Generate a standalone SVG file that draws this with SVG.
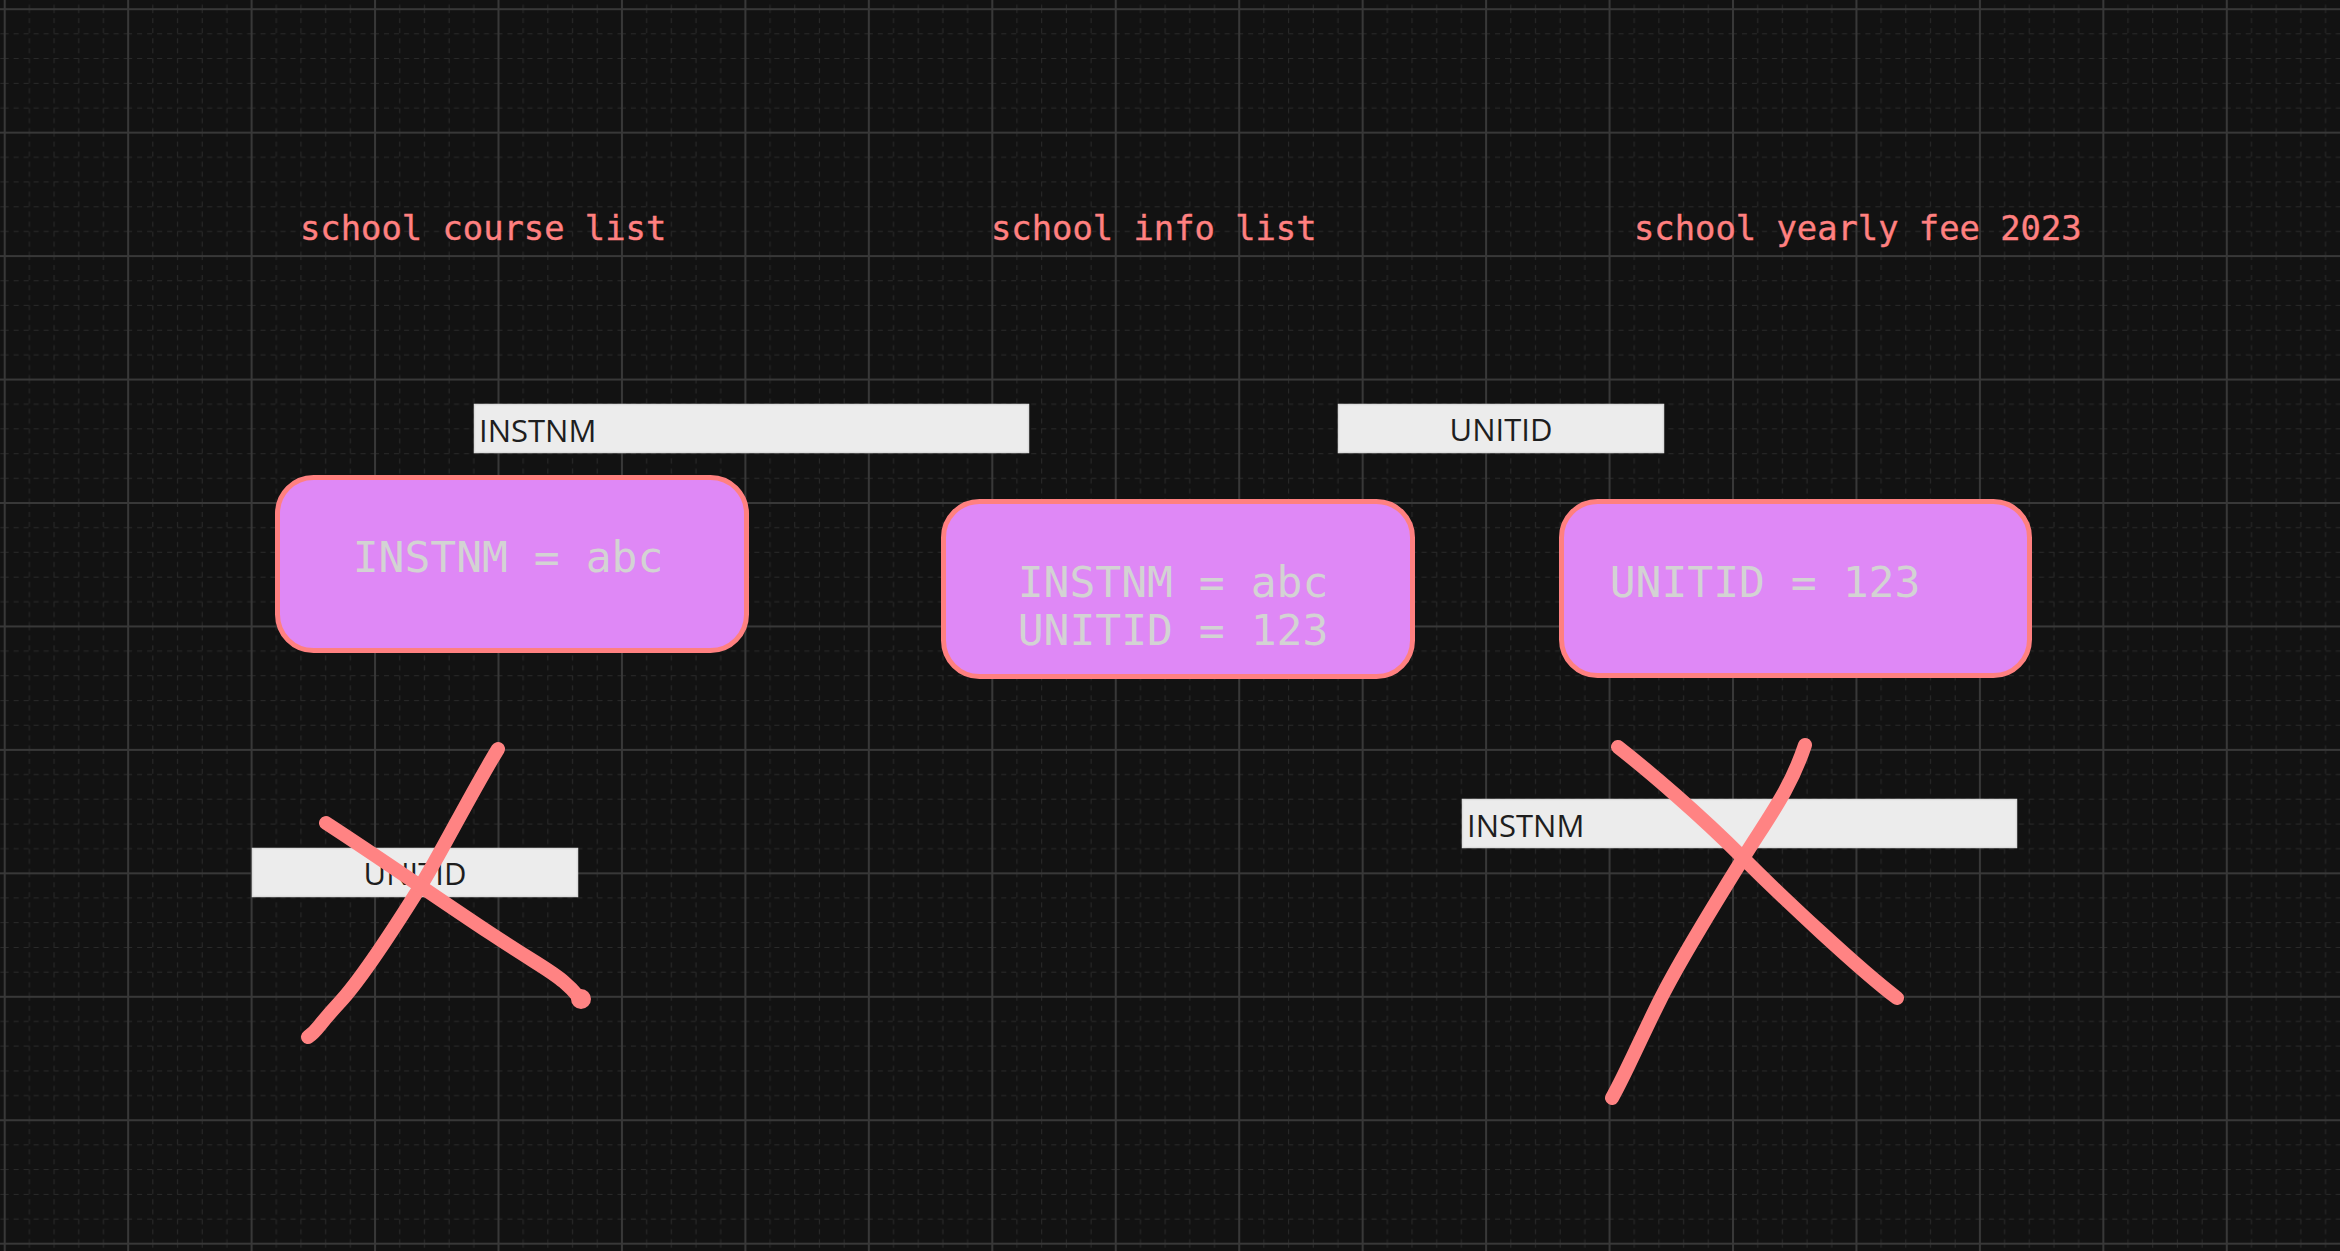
<svg xmlns="http://www.w3.org/2000/svg" width="2340" height="1251" viewBox="0 0 2340 1251">
<defs>
<pattern id="grid" patternUnits="userSpaceOnUse" x="3.7" y="8.2" width="123.45" height="123.45">
<g stroke="#2a2a2a" stroke-width="1" stroke-dasharray="5 5" fill="none">
<path d="M25.69 0V123.45M50.38 0V123.45M75.07 0V123.45M99.76 0V123.45"/>
<path d="M0 25.69H123.45M0 50.38H123.45M0 75.07H123.45M0 99.76H123.45"/>
</g>
<path d="M1 0V123.45M0 1H123.45" stroke="#383838" stroke-width="2" fill="none"/>
</pattern>
<style>
.title{font-family:"DejaVu Sans Mono",monospace;font-size:33.8px;fill:#ff8080;stroke:#ff8080;stroke-width:0.4}
.box{fill:#df88f6;stroke:#ff8080;stroke-width:5}
.btxt{font-family:"DejaVu Sans Mono",monospace;font-size:43px;fill:#d3d3d3;text-anchor:middle}
.lbl{fill:#ececec;stroke:#dcdcdc;stroke-width:1.5}
.ltxt{font-family:"Open Sans","Noto Sans",sans-serif;font-size:31px;fill:#1e1e1e}
.mark{fill:none;stroke:#ff8383;stroke-width:14;stroke-linecap:round;stroke-linejoin:round}
</style>
</defs>
<rect width="2340" height="1251" fill="#121212"/>
<rect width="2340" height="1251" fill="url(#grid)"/>

<g id="titles">
<text class="title" x="300" y="240">school course list</text>
<text class="title" x="991" y="240">school info list</text>
<text class="title" x="1634" y="240">school yearly fee 2023</text>
</g>

<g id="label-instnm-top">
<rect class="lbl" x="474.5" y="404.5" width="554" height="48"/>
<text class="ltxt" x="479" y="442">INSTNM</text>
</g>
<g id="label-unitid-top">
<rect class="lbl" x="1338.5" y="404.5" width="325" height="48"/>
<text class="ltxt" x="1501" y="441" text-anchor="middle">UNITID</text>
</g>

<g id="node-course">
<rect class="box" x="277.5" y="477.5" width="469" height="173" rx="36"/>
<text class="btxt" x="508" y="572">INSTNM = abc</text>
</g>
<g id="node-info">
<rect class="box" x="943.5" y="501.5" width="469" height="175" rx="36"/>
<text class="btxt" x="1173" y="597">INSTNM = abc</text>
<text class="btxt" x="1173" y="645">UNITID = 123</text>
</g>
<g id="node-fee">
<rect class="box" x="1561.5" y="501.5" width="468" height="174" rx="36"/>
<text class="btxt" x="1765" y="597">UNITID = 123</text>
</g>

<g id="label-unitid-bottom">
<rect class="lbl" x="252.5" y="848.5" width="325" height="48"/>
<text class="ltxt" x="415" y="885" text-anchor="middle">UNITID</text>
</g>
<g id="label-instnm-bottom">
<rect class="lbl" x="1462.5" y="799.5" width="554" height="48"/>
<text class="ltxt" x="1467" y="837">INSTNM</text>
</g>

<g id="connectors">
<path class="mark" d="M498,749 C470,795 440,855 420,887 S365,975 340,1002 S318,1030 308,1037"/>
<path class="mark" d="M326,823 C380,858 440,900 490,933 S550,970 564,982 S578,998 582,1000"/>
<circle cx="581" cy="999" r="10" fill="#ff8383"/>
<path class="mark" d="M1618,747 C1650,772 1700,815 1742,857 S1860,970 1897,998"/>
<path class="mark" d="M1805,745 C1790,790 1770,815 1742,860 S1680,960 1660,1000 S1625,1075 1612,1098"/>
</g>
</svg>
